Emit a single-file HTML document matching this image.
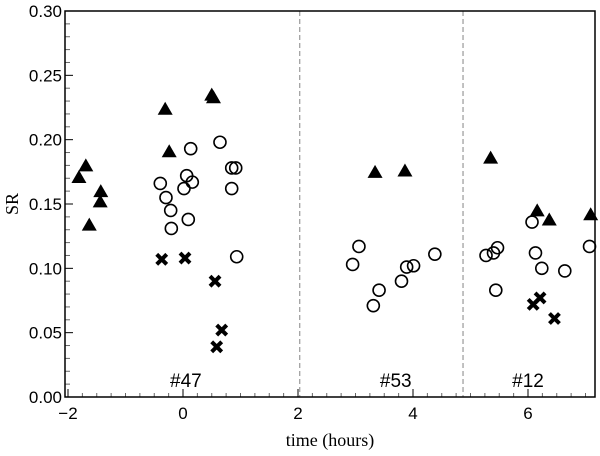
<!DOCTYPE html>
<html><head><meta charset="utf-8"><style>
body{margin:0;background:#fff}
svg{display:block}
text{font-family:"Liberation Sans",sans-serif}
</style></head><body>
<svg id="chart" width="600" height="456" viewBox="0 0 600 456" xmlns="http://www.w3.org/2000/svg"></svg>
<script>
const xTicks=[-2,0,2,4,6];
const yTicks=[0,0.05,0.10,0.15,0.20,0.25,0.30];
const yTickLabels=["0.00","0.05","0.10","0.15","0.20","0.25","0.30"];
const dividers=[2.03,4.87];
const groupLabels=["#47","#53","#12"];
const groupLabelX=[0.05,3.7,6.0];
const triX=[-1.69,-1.81,-1.43,-1.44,-1.63,-0.31,-0.24,0.50,0.53,3.34,3.86,5.35,6.16,6.37,7.09];
const triY=[0.180,0.171,0.160,0.152,0.134,0.224,0.191,0.235,0.233,0.175,0.176,0.186,0.145,0.138,0.142];
const circX=[-0.395,-0.296,-0.214,-0.203,0.092,0.017,0.064,0.162,0.134,0.643,0.847,0.917,0.847,0.934,3.06,2.95,3.41,3.31,3.80,3.89,4.01,4.38,5.27,5.40,5.47,5.44,6.07,6.13,6.24,6.64,7.07];
const circY=[0.166,0.155,0.145,0.131,0.138,0.162,0.172,0.167,0.193,0.198,0.178,0.178,0.162,0.109,0.117,0.103,0.083,0.071,0.090,0.101,0.102,0.111,0.110,0.112,0.116,0.083,0.136,0.112,0.100,0.098,0.117];
const crossX=[-0.37,0.035,0.557,0.673,0.586,6.09,6.21,6.46];
const crossY=[0.107,0.108,0.090,0.052,0.039,0.072,0.077,0.061];

const NS="http://www.w3.org/2000/svg";
const svg=document.getElementById('chart');
const L=65,R=595,T=11,B=397;
const sx=v=>68+(v+2)*57.5;
const sy=v=>B-(v/0.30)*(B-T);
function mk(tag,attrs,parent){const e=document.createElementNS(NS,tag);for(const k in attrs)e.setAttribute(k,attrs[k]);(parent||svg).appendChild(e);return e;}

dividers.forEach(d=>{
  const l=mk('line',{x1:sx(d),x2:sx(d),y1:T,y2:B,stroke:'#999','stroke-width':1.2,'stroke-dasharray':'5,3'});
  
  
});
for(let v=-2;v<=7.1;v+=0.25){
  const major=Math.abs(v-Math.round(v))<1e-6&&Math.round(v)%2===0;
  mk('line',{x1:sx(v),x2:sx(v),y1:B,y2:B-(major?8:4),stroke:major?'#000':'#666','stroke-width':1});
}
for(let i=0;i<=30;i++){
  const v=i*0.01;const major=i%5===0;
  mk('line',{x1:L,x2:L+(major?8:5),y1:sy(v),y2:sy(v),stroke:major?'#000':'#666','stroke-width':1});
}
const fr=mk('rect',{x:L,y:T,width:R-L,height:B-T,fill:'none',stroke:'#000','stroke-width':1.5});


xTicks.forEach(v=>{
  const t=mk('text',{x:sx(v),y:B+22,'text-anchor':'middle','font-size':17});
  
  
  t.textContent=v<0?'\u2212'+Math.abs(v):String(v);
});
yTicks.forEach((v,i)=>{
  const t=mk('text',{x:L-3,y:sy(v)+6,'text-anchor':'end','font-size':17});
  
  
  t.textContent=yTickLabels[i];
});
const xt=mk('text',{x:330,y:446,'text-anchor':'middle','font-size':18,style:'font-family:"Liberation Serif",serif'});


xt.textContent='time (hours)';
const yt=mk('text',{x:0,y:0,'text-anchor':'middle','font-size':18,transform:'translate(18,204) rotate(-90)',style:'font-family:"Liberation Serif",serif'});


yt.textContent='SR';
groupLabels.forEach((g,i)=>{
  const t=mk('text',{x:sx(groupLabelX[i]),y:387,'text-anchor':'middle','font-size':19});
  
  
  t.textContent=g;
});
triX.forEach((x,i)=>{
  const cx=sx(x),cy=sy(triY[i]);
  const p=mk('polygon',{points:`${cx-7.5},${cy+6} ${cx+7.5},${cy+6} ${cx},${cy-7}`,fill:'#000'});
  
  
});
circX.forEach((x,i)=>{
  const c=mk('circle',{cx:sx(x),cy:sy(circY[i]),r:6,fill:'none',stroke:'#000','stroke-width':1.6});
  
  
});
crossX.forEach((x,i)=>{
  const cx=sx(x),cy=sy(crossY[i]),s=5;
  const p=mk('path',{d:`M${cx-s},${cy-s}L${cx+s},${cy+s}M${cx+s},${cy-s}L${cx-s},${cy+s}`,stroke:'#000','stroke-width':4,fill:'none'});
  
  
});
</script>
</body></html>
